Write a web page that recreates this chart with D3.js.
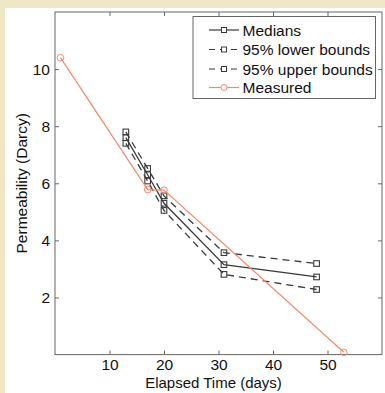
<!DOCTYPE html>
<html><head><meta charset="utf-8">
<script src="https://cdn.jsdelivr.net/npm/d3@7"></script>
<style>body{margin:0;background:#fff}svg{display:block}</style>
</head><body>
<svg id="c" width="385" height="393"></svg>
<script>
const days = [13, 17, 20, 31, 48];
const medians = [7.6, 6.3, 5.3, 3.15, 2.72];
const lower95 = [7.4, 6.08, 5.05, 2.81, 2.28];
const upper95 = [7.8, 6.52, 5.56, 3.57, 3.19];
const measuredDays = [1, 17, 20, 53];
const measured = [10.4, 5.78, 5.76, 0.08];
const xTicks = [10, 20, 30, 40, 50];
const yTicks = [2, 4, 6, 8, 10];
const legendLabels = ["Medians", "95% lower bounds", "95% upper bounds", "Measured"];

const svg = d3.select("#c");
const W = 385, H = 393;
svg.append("rect").attr("width", W).attr("height", H).attr("fill", "#efe8c6");
svg.append("rect").attr("x", 5).attr("y", 8).attr("width", W - 5).attr("height", H - 8).attr("fill", "#fff");

const L = 55, R = 382, T = 12, B = 354.6;
const x = d3.scaleLinear().domain([0, 60]).range([L, R]);
const y = d3.scaleLinear().domain([0, 12]).range([B, T]);
const font = "Liberation Sans, Arial, Helvetica, sans-serif";
const axisColor = "#666";
const dark = "#3a3a3a";
const orange = "#f58a6a";

const tl = 4;
const gB = svg.append("g").attr("transform", `translate(0,${B})`)
  .call(d3.axisBottom(x).tickValues(xTicks).tickSizeInner(-tl).tickSizeOuter(0).tickPadding(4));
const gT = svg.append("g").attr("transform", `translate(0,${T})`)
  .call(d3.axisTop(x).tickValues(xTicks).tickSizeInner(-tl).tickSizeOuter(0).tickFormat(""));
const gL = svg.append("g").attr("transform", `translate(${L},0)`)
  .call(d3.axisLeft(y).tickValues(yTicks).tickSizeInner(-tl).tickSizeOuter(0).tickPadding(5));
const gR = svg.append("g").attr("transform", `translate(${R},0)`)
  .call(d3.axisRight(y).tickValues(yTicks).tickSizeInner(-tl).tickSizeOuter(0).tickFormat(""));
[gB, gT, gL, gR].forEach(g => {
  g.select(".domain").remove();
  g.selectAll("line").attr("stroke", axisColor);
  g.selectAll("text").attr("font-family", font).attr("font-size", 15.5).attr("fill", "#111");
});
svg.append("rect").attr("x", L).attr("y", T).attr("width", R - L).attr("height", B - T)
  .attr("fill", "none").attr("stroke", axisColor).attr("stroke-width", 1);

svg.append("text").attr("x", (L + R) / 2 - 5).attr("y", 388).attr("text-anchor", "middle")
  .attr("font-family", font).attr("font-size", 15).attr("fill", "#111").text("Elapsed Time (days)");
svg.append("text").attr("transform", `translate(27,${(T + B) / 2}) rotate(-90)`).attr("text-anchor", "middle")
  .attr("font-family", font).attr("font-size", 15.5).attr("fill", "#111").text("Permeability (Darcy)");

const line = d3.line().x(d => x(d[0])).y(d => y(d[1]));
const series = [
  {vals: medians, dash: null},
  {vals: lower95, dash: "7,5"},
  {vals: upper95, dash: "7,5"}
];
const plot = svg.append("g");
series.forEach(s => {
  const pts = days.map((d, i) => [d, s.vals[i]]);
  plot.append("path").datum(pts).attr("d", line).attr("fill", "none")
    .attr("stroke", dark).attr("stroke-width", 1.3).attr("stroke-dasharray", s.dash);
  plot.selectAll(null).data(pts).enter().append("rect")
    .attr("x", d => x(d[0]) - 2.8).attr("y", d => y(d[1]) - 2.8).attr("width", 5.6).attr("height", 5.6)
    .attr("fill", "none").attr("stroke", dark).attr("stroke-width", 1.1);
});
const mPts = measuredDays.map((d, i) => [d, measured[i]]);
plot.append("path").datum(mPts).attr("d", line).attr("fill", "none").attr("stroke", orange).attr("stroke-width", 1.2);
plot.selectAll(null).data(mPts).enter().append("circle")
  .attr("cx", d => x(d[0])).attr("cy", d => y(d[1])).attr("r", 3.3)
  .attr("fill", "none").attr("stroke", orange).attr("stroke-width", 1);

const lg = svg.append("g");
lg.append("rect").attr("x", 193).attr("y", 16.5).attr("width", 182.5).attr("height", 82)
  .attr("fill", "#fff").attr("stroke", axisColor).attr("stroke-width", 1);
const legendStyles = [
  {c: dark, dash: null, m: "sq"},
  {c: dark, dash: "6,5", m: "sq"},
  {c: dark, dash: "6,5", m: "sq"},
  {c: orange, dash: null, m: "ci"}
];
const rowY = [30, 49.5, 69, 87.5];
legendLabels.forEach((lab, i) => {
  const st = legendStyles[i], yy = rowY[i];
  lg.append("line").attr("x1", 209).attr("x2", 239).attr("y1", yy).attr("y2", yy)
    .attr("stroke", st.c).attr("stroke-width", 1.2).attr("stroke-dasharray", st.dash);
  if (st.m === "sq") {
    lg.append("rect").attr("x", 224 - 2.5).attr("y", yy - 2.5).attr("width", 5).attr("height", 5)
      .attr("fill", "#fff").attr("stroke", st.c).attr("stroke-width", 1);
  } else {
    lg.append("circle").attr("cx", 224).attr("cy", yy).attr("r", 3)
      .attr("fill", "#fff").attr("stroke", st.c).attr("stroke-width", 1);
  }
  lg.append("text").attr("x", 242.5).attr("y", yy + 5.5).attr("font-family", font).attr("font-size", 15.5)
    .attr("fill", "#111").text(lab);
});
</script>
</body></html>
